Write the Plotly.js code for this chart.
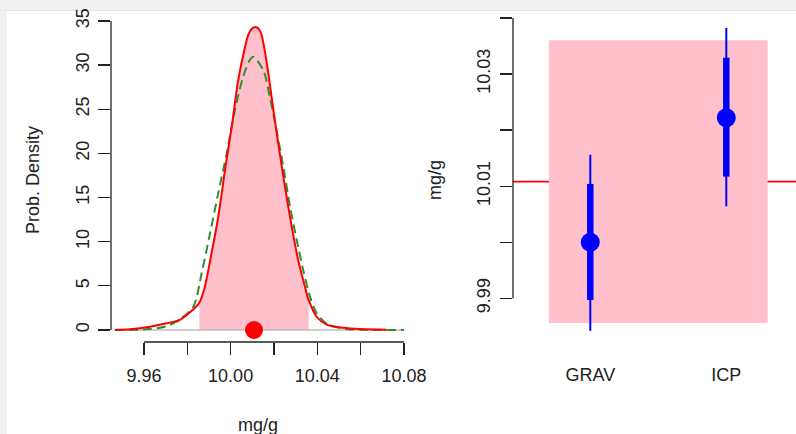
<!DOCTYPE html>
<html>
<head>
<meta charset="utf-8">
<script src="https://cdn.plot.ly/plotly-3.0.1.min.js"></script>
<style>
  html, body { margin: 0; padding: 0; width: 796px; height: 434px; overflow: hidden; background: #f1f1f1; }
  #topline { position: absolute; left: 0; top: 10px; width: 796px; height: 1px; background: #e4e4e4; }
  #white { position: absolute; left: 7px; top: 11px; width: 789px; height: 423px; background: #fff; }
  #plot { position: absolute; left: 0; top: 0; width: 796px; height: 434px; }
</style>
</head>
<body>
<div id="topline"></div>
<div id="white"></div>
<div id="plot"></div>
<script>
// ---- Left panel: probability density (mg/g) ----
var redX = [9.9466, 9.9535, 9.9628, 9.9705, 9.9766, 9.9812, 9.9856, 9.9881, 9.9912, 9.9943, 9.9974, 10.0005, 10.0035, 10.0066, 10.0081, 10.0097, 10.0117, 10.0130, 10.0143, 10.0166, 10.0189, 10.0220, 10.0251, 10.0282, 10.0312, 10.0343, 10.0360, 10.0397, 10.0443, 10.0520, 10.0597, 10.0720];
var redY = [0.0, 0.08, 0.37, 0.76, 1.15, 2.0, 3.1, 4.9, 8.7, 12.8, 18.1, 23.0, 28.3, 32.0, 33.4, 34.1, 34.3, 34.1, 33.4, 30.4, 26.4, 21.1, 16.2, 11.7, 7.9, 4.9, 3.4, 1.5, 0.6, 0.26, 0.11, 0.03];

var greenX = [9.9466, 9.9600, 9.9700, 9.9766, 9.9828, 9.9866, 9.9905, 9.9943, 9.9982, 10.0020, 10.0058, 10.0089, 10.0104, 10.0151, 10.0181, 10.0212, 10.0243, 10.0274, 10.0305, 10.0335, 10.0366, 10.0397, 10.0450, 10.0530, 10.0620, 10.0800];
var greenY = [0.0, 0.06, 0.4, 1.2, 2.64, 6.4, 10.95, 15.5, 20.0, 24.9, 28.7, 30.6, 30.95, 29.4, 26.4, 22.6, 18.5, 14.0, 10.2, 6.8, 3.8, 1.9, 0.6, 0.12, 0.02, 0.0];

var consensus = 10.0108;          // red dot / red reference line
var ciLo = 9.9856, ciHi = 10.0360; // pink coverage interval

var densTickVals = [9.96, 9.98, 10.00, 10.02, 10.04, 10.06, 10.08];
var densTickText = ['9.96', '', '10.00', '', '10.04', '', '10.08'];
var densYTicks = [0, 5, 10, 15, 20, 25, 30, 35];

// ---- Right panel: lab results ----
var labs = ['GRAV', 'ICP'];
var labValue = [10.0000, 10.0222];
var thickLo = [9.9897, 10.0117];
var thickHi = [10.0104, 10.0329];
var thinLo = [9.9842, 10.0064];
var thinHi = [10.0156, 10.0382];
var labYTickVals = [9.99, 10.00, 10.01, 10.02, 10.03, 10.04];
var labYTickText = ['9.99', '', '10.01', '', '10.03', ''];

// build helpers
var fillX = [], fillY = [];
for (var i = 0; i < redX.length; i++) {
  if (redX[i] >= ciLo && redX[i] <= ciHi) { fillX.push(redX[i]); fillY.push(redY[i]); }
}
function segs(lo, hi) {
  var xs = [], ys = [];
  for (var k = 0; k < labs.length; k++) {
    xs.push(labs[k], labs[k], null);
    ys.push(lo[k], hi[k], null);
  }
  return {x: xs, y: ys};
}
var thin = segs(thinLo, thinHi);
var thick = segs(thickLo, thickHi);

var FONT = 'Liberation Sans, Arial, Helvetica, sans-serif';
var TXT = '#222';
var W = 796;

var traces = [
  {x: fillX, y: fillY, type: 'scatter', mode: 'lines', fill: 'tozeroy', fillcolor: '#FFC0CB',
   line: {width: 0, shape: 'spline', smoothing: 0.8}, xaxis: 'x', yaxis: 'y', hoverinfo: 'skip'},
  {x: [greenX[0], greenX[greenX.length - 1]], y: [0, 0], type: 'scatter', mode: 'lines',
   line: {color: '#bdbdbd', width: 1.3}, xaxis: 'x', yaxis: 'y'},
  {x: greenX, y: greenY, type: 'scatter', mode: 'lines',
   line: {color: '#2f8f2f', width: 2, dash: '9px,5px', shape: 'spline', smoothing: 0.8}, xaxis: 'x', yaxis: 'y'},
  {x: redX, y: redY, type: 'scatter', mode: 'lines',
   line: {color: '#ff0000', width: 2, shape: 'spline', smoothing: 0.8}, xaxis: 'x', yaxis: 'y'},
  {x: [consensus], y: [0], type: 'scatter', mode: 'markers',
   marker: {color: '#ff0000', size: 18}, xaxis: 'x', yaxis: 'y'},
  {x: thin.x, y: thin.y, type: 'scatter', mode: 'lines', connectgaps: false,
   line: {color: '#0000ff', width: 2}, xaxis: 'x2', yaxis: 'y2'},
  {x: thick.x, y: thick.y, type: 'scatter', mode: 'lines', connectgaps: false,
   line: {color: '#0000ff', width: 6.5}, xaxis: 'x2', yaxis: 'y2'},
  {x: labs, y: labValue, type: 'scatter', mode: 'markers',
   marker: {color: '#0000ff', size: 19}, xaxis: 'x2', yaxis: 'y2'}
];

var axCommon = {
  showgrid: false, zeroline: false, showline: false,
  ticks: 'outside', ticklen: 12, tickwidth: 1.3, tickcolor: '#222',
  ticklabeloverflow: 'allow',
  tickfont: {family: FONT, size: 18, color: TXT}
};

var layout = {
  width: W, height: 434,
  margin: {l: 0, r: 0, t: 16, b: 92, pad: 0},
  paper_bgcolor: 'rgba(0,0,0,0)', plot_bgcolor: 'rgba(0,0,0,0)',
  showlegend: false,
  font: {family: FONT, size: 18, color: TXT},
  xaxis: Object.assign({}, axCommon, {
    domain: [111 / W, 407 / W], range: [9.9448, 10.0814],
    tickmode: 'array', tickvals: densTickVals, ticktext: densTickText, ticklabelstandoff: 5
  }),
  yaxis: Object.assign({}, axCommon, {
    domain: [0, 1], range: [-1.36, 35.56],
    tickmode: 'array', tickvals: densYTicks, tickangle: -90, ticklabelstandoff: 2
  }),
  xaxis2: Object.assign({}, axCommon, {
    domain: [513 / W, 1], type: 'category', categoryorder: 'array', categoryarray: labs,
    range: [-0.5684, 1.5125], ticks: '', ticklen: 0, ticklabelstandoff: 20
  }),
  yaxis2: Object.assign({}, axCommon, {
    domain: [0, 1], anchor: 'x2', range: [9.98221, 10.04034],
    tickmode: 'array', tickvals: labYTickVals, ticktext: labYTickText, tickangle: -90, ticklabelstandoff: 3
  }),
  shapes: [
    {type: 'rect', layer: 'below', xref: 'x2', yref: 'y2', x0: -0.304, x1: 1.304, y0: ciLo, y1: ciHi,
     fillcolor: '#FFC0CB', line: {width: 0}},
    {type: 'line', layer: 'below', xref: 'x2 domain', yref: 'y2', x0: 0, x1: 1, y0: consensus, y1: consensus,
     line: {color: '#ff0000', width: 1.6}},
    {type: 'line', xref: 'x domain', yref: 'y', x0: 0, x1: 0, y0: densYTicks[0], y1: densYTicks[densYTicks.length - 1],
     line: {color: '#222', width: 1.3}},
    {type: 'line', xref: 'x', yref: 'y domain', x0: densTickVals[0], x1: densTickVals[densTickVals.length - 1], y0: 0, y1: 0,
     line: {color: '#222', width: 1.3}},
    {type: 'line', xref: 'x2 domain', yref: 'y2', x0: 0, x1: 0, y0: labYTickVals[0], y1: labYTickVals[labYTickVals.length - 1],
     line: {color: '#222', width: 1.3}}
  ],
  annotations: [
    {text: 'Prob. Density', xref: 'paper', yref: 'paper', x: 33 / W, y: 0.497, textangle: -90,
     showarrow: false, xanchor: 'center', yanchor: 'middle', font: {family: FONT, size: 18, color: TXT}},
    {text: 'mg/g', xref: 'paper', yref: 'paper', x: 258 / W, y: -0.2546,
     showarrow: false, xanchor: 'center', yanchor: 'middle', font: {family: FONT, size: 18, color: TXT}},
    {text: 'mg/g', xref: 'paper', yref: 'paper', x: 435 / W, y: 0.497, textangle: -90,
     showarrow: false, xanchor: 'center', yanchor: 'middle', font: {family: FONT, size: 18, color: TXT}}
  ]
};

Plotly.newPlot('plot', traces, layout, {displayModeBar: false, staticPlot: true});
</script>
</body>
</html>
